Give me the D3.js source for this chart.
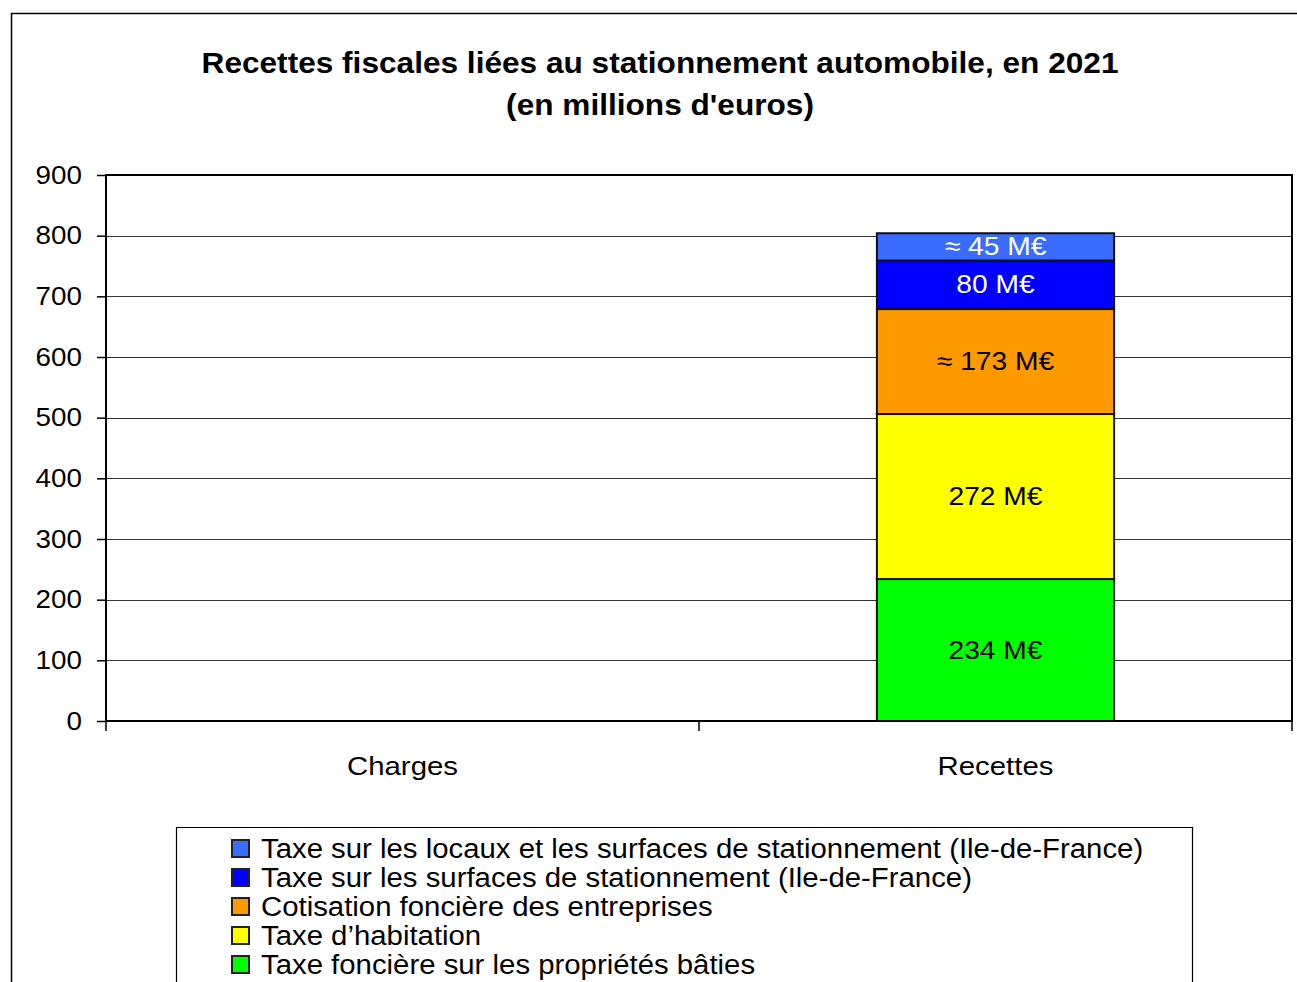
<!DOCTYPE html>
<html>
<head>
<meta charset="utf-8">
<script src="https://cdn.jsdelivr.net/npm/d3@7"></script>
<style>
  body { margin: 0; background: #fff; }
  svg { font-family: "Liberation Sans", Arial, sans-serif; }
</style>
</head>
<body>
<div class="graph"></div>
<script>
// data
const categories = ["Charges", "Recettes"];
const seriesNames = [
  "Taxe foncière sur les propriétés bâties",
  "Taxe d’habitation",
  "Cotisation foncière des entreprises",
  "Taxe sur les surfaces de stationnement (Ile-de-France)",
  "Taxe sur les locaux et les surfaces de stationnement (Ile-de-France)"
];
const chargesValues = [0, 0, 0, 0, 0];
const recettesValues = [234, 272, 173, 80, 45];
const barLabels = ["234 M€", "272 M€", "≈ 173 M€", "80 M€", "≈ 45 M€"];
const colors = ["#00ff00", "#ffff00", "#ff9900", "#0000ff", "#3a6cff"];
const labelColors = ["#000", "#000", "#000", "#fff", "#fff"];
const yTicks = [0, 100, 200, 300, 400, 500, 600, 700, 800, 900];

//dimensions
const SIZE = {X: 1297, Y: 982};
const PLOT = {LEFT: 106, RIGHT: 1292, TOP: 175, BOTTOM: 721};
// the original text is a bit wider than Liberation Sans, stretch it horizontally
const STRETCH = {TITLE: 1.09, TICK: 1.07, CAT: 1.13, BAR: 1.085, LEGEND: 1.087};

const svg = d3.select(".graph").append("svg")
    .attr("width", SIZE.X)
    .attr("height", SIZE.Y);

// outer frame (open to right and bottom edges)
svg.append("path")
    .attr("d", `M11.5,${SIZE.Y} L11.5,13.5 L${SIZE.X},13.5`)
    .attr("fill", "none")
    .attr("stroke", "#000")
    .attr("stroke-width", 1.5);

// title
const titleLines = ["Recettes fiscales liées au stationnement automobile, en 2021", "(en millions d'euros)"];
svg.append("g")
    .selectAll("text")
    .data(titleLines)
    .enter().append("text")
    .attr("transform", (d, i) => `translate(660, ${73 + i * 42}) scale(${STRETCH.TITLE},1)`)
    .attr("text-anchor", "middle")
    .attr("font-weight", "bold")
    .attr("font-size", 29)
    .attr("fill", "#000")
    .text(d => d);

//scales
const x = d3.scaleBand()
    .domain(categories)
    .range([PLOT.LEFT, PLOT.RIGHT])
    .paddingInner(0.6)
    .paddingOuter(0.3);

const y = d3.scaleLinear()
    .domain([0, 900])
    .range([PLOT.BOTTOM, PLOT.TOP]);

// gridlines
svg.append("g")
    .selectAll("line")
    .data(yTicks.filter(d => d > 0 && d < 900))
    .enter().append("line")
    .attr("x1", PLOT.LEFT).attr("x2", PLOT.RIGHT)
    .attr("y1", d => Math.round(y(d)) + 0.5).attr("y2", d => Math.round(y(d)) + 0.5)
    .attr("stroke", "#333")
    .attr("stroke-width", 1);

// stacked data
const rows = categories.map(c => {
  const r = {cat: c};
  seriesNames.forEach((s, i) => { r[s] = c === "Charges" ? chargesValues[i] : recettesValues[i]; });
  return r;
});
const stack = d3.stack().keys(seriesNames)(rows);

const layers = svg.append("g")
    .selectAll("g")
    .data(stack)
    .enter().append("g")
    .attr("fill", (d, i) => colors[i]);

layers.selectAll("rect")
    .data(d => d.filter(p => p[1] > p[0]))
    .enter().append("rect")
    .attr("x", d => x(d.data.cat))
    .attr("width", x.bandwidth())
    .attr("y", d => y(d[1]))
    .attr("height", d => y(d[0]) - y(d[1]))
    .attr("stroke", "#111")
    .attr("stroke-width", 2);

// value labels
stack.forEach((layer, i) => {
  const p = layer[1];
  const cx = x(p.data.cat) + x.bandwidth() / 2;
  const cy = (y(p[0]) + y(p[1])) / 2;
  svg.append("text")
      .attr("transform", `translate(${cx}, ${cy}) scale(${STRETCH.BAR},1)`)
      .attr("dy", "0.33em")
      .attr("text-anchor", "middle")
      .attr("font-size", 26)
      .attr("fill", labelColors[i])
      .text(barLabels[i]);
});

// y axis
const yAxis = svg.append("g")
    .attr("transform", `translate(${PLOT.LEFT},0)`)
    .call(d3.axisLeft(y).tickValues(yTicks).tickSize(9).tickFormat(d3.format("d")));
yAxis.select(".domain").remove();
yAxis.selectAll("line").attr("stroke", "#000").attr("stroke-width", 1.5);
yAxis.selectAll("text")
    .attr("x", 0)
    .attr("transform", `translate(-24,0) scale(${STRETCH.TICK},1)`)
    .attr("font-size", 26)
    .attr("fill", "#000")
    .attr("font-family", "Liberation Sans, Arial, sans-serif");

// x axis ticks between categories
const xTickPos = [PLOT.LEFT, (PLOT.LEFT + PLOT.RIGHT) / 2, PLOT.RIGHT];
svg.append("g")
    .selectAll("line")
    .data(xTickPos)
    .enter().append("line")
    .attr("x1", d => d).attr("x2", d => d)
    .attr("y1", PLOT.BOTTOM).attr("y2", PLOT.BOTTOM + 10)
    .attr("stroke", "#000").attr("stroke-width", 1.5);

svg.append("g")
    .selectAll("text")
    .data(categories)
    .enter().append("text")
    .attr("transform", d => `translate(${x(d) + x.bandwidth() / 2}, 775) scale(${STRETCH.CAT},1)`)
    .attr("text-anchor", "middle")
    .attr("font-size", 26)
    .attr("fill", "#000")
    .text(d => d);

// plot border
svg.append("rect")
    .attr("x", PLOT.LEFT).attr("y", PLOT.TOP)
    .attr("width", PLOT.RIGHT - PLOT.LEFT).attr("height", PLOT.BOTTOM - PLOT.TOP)
    .attr("fill", "none")
    .attr("stroke", "#000")
    .attr("stroke-width", 2);

// legend
const legend = svg.append("g");
legend.append("path")
    .attr("d", `M176.5,${SIZE.Y} L176.5,827.5 L1192.5,827.5 L1192.5,${SIZE.Y}`)
    .attr("fill", "none")
    .attr("stroke", "#000")
    .attr("stroke-width", 1.2);

const legendOrder = d3.range(seriesNames.length).reverse();
const items = legend.selectAll("g.item")
    .data(legendOrder)
    .enter().append("g")
    .attr("class", "item")
    .attr("transform", (d, i) => `translate(232, ${848 + i * 29})`);

items.append("rect")
    .attr("x", 0).attr("y", -8)
    .attr("width", 17).attr("height", 17)
    .attr("fill", d => colors[d])
    .attr("stroke", "#222")
    .attr("stroke-width", 2);

items.append("text")
    .attr("transform", `translate(29,0) scale(${STRETCH.LEGEND},1)`)
    .attr("dy", "0.36em")
    .attr("font-size", 27)
    .attr("fill", "#000")
    .text(d => seriesNames[d]);
</script>
</body>
</html>
